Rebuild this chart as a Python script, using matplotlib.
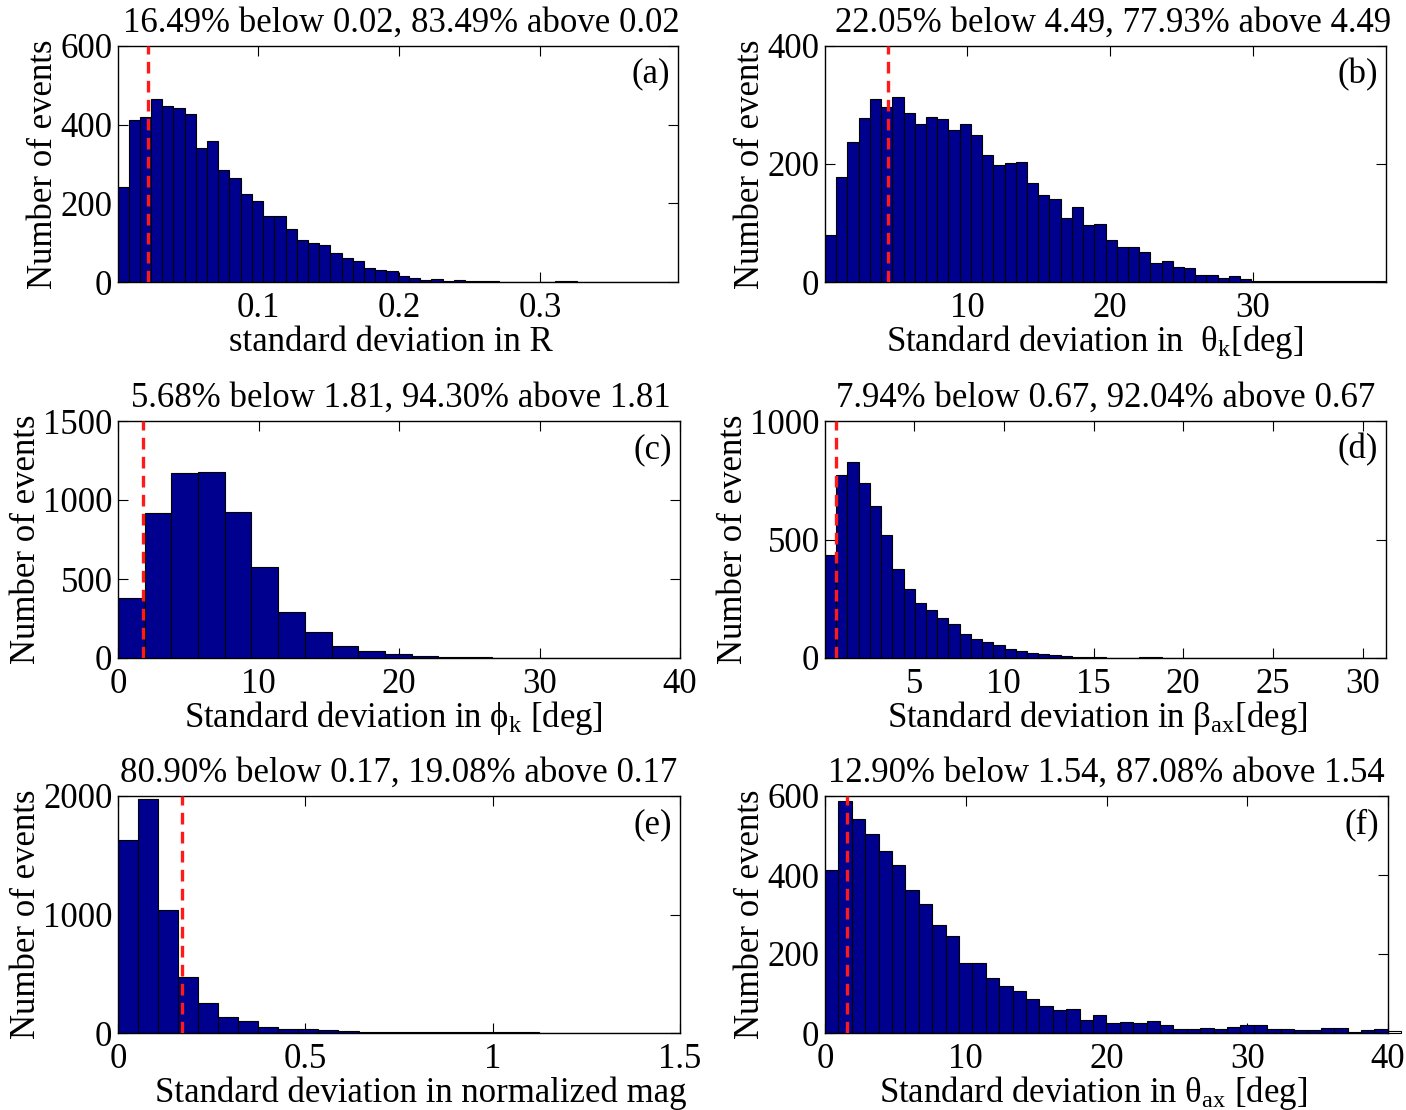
import numpy as np
import matplotlib
matplotlib.use("Agg")
import matplotlib.pyplot as plt

plt.rcParams['font.family'] = ['Liberation Serif', 'DejaVu Serif']
plt.rcParams['mathtext.fontset'] = 'custom'
plt.rcParams['mathtext.rm'] = 'Liberation Serif'
plt.rcParams['mathtext.it'] = 'Liberation Serif:italic'
plt.rcParams['font.size'] = 25

# ---------------- data ----------------
# (a) standard deviation in R
counts_a = [242, 412, 419, 464, 447, 443, 426, 341, 358, 286, 265, 224, 207, 167, 167,
            136, 106, 99, 93, 74, 61, 53, 36, 31, 29, 16, 10, 6, 8, 3, 4, 3, 2, 2, 1,
            1, 1, 0, 0, 2, 2, 0, 0, 0, 0, 0, 0, 0, 0, 0]
bins_a = [0.0, 0.00796]          # start, width
xlim_a = [0.0005, 0.398]
xticks_a = [0.1, 0.2, 0.3]
xticklabels_a = ['0.1', '0.2', '0.3']
yticks_a = [0, 200, 400, 600]
thr_a = 0.0215
title_a = '16.49% below 0.02, 83.49% above 0.02'

# (b) theta_k
counts_b = [80, 178, 237, 278, 310, 296, 313, 286, 268, 279, 276, 257, 268, 249, 215,
            198, 201, 203, 168, 148, 141, 109, 127, 96, 98, 71, 59, 60, 51, 32, 36, 26,
            23, 12, 12, 6, 10, 5, 1, 1, 2, 1, 2, 1, 1, 1, 1, 1, 1, 1]
bins_b = [0.07, 0.7846]
xlim_b = [0.07, 39.3]
xticks_b = [10, 20, 30]
xticklabels_b = ['10', '20', '30']
yticks_b = [0, 200, 400]
thr_b = 4.49
title_b = '22.05% below 4.49, 77.93% above 4.49'

# (c) phi_k
counts_c = [381, 916, 1170, 1176, 925, 573, 290, 162, 79, 47, 26, 15, 6, 4, 2, 1, 1, 0, 0, 0, 0]
bins_c = [0.0, 1.9]
xlim_c = [0, 40]
xticks_c = [0, 10, 20, 30, 40]
xticklabels_c = ['0', '10', '20', '30', '40']
yticks_c = [0, 500, 1000, 1500]
thr_c = 1.81
title_c = '5.68% below 1.81, 94.30% above 1.81'

# (d) beta_ax
counts_d = [433, 772, 825, 739, 641, 520, 375, 293, 234, 201, 170, 145, 100, 81, 67,
            53, 38, 31, 23, 16, 13, 9, 6, 3, 3, 1, 0, 1, 3, 3, 1, 0, 1, 1, 1, 2, 2, 1,
            1, 1, 0, 0, 0, 1, 0, 0, 0, 0, 0, 0]
bins_d = [0.03, 0.6254]
xlim_d = [0.03, 31.3]
xticks_d = [5, 10, 15, 20, 25, 30]
xticklabels_d = ['5', '10', '15', '20', '25', '30']
yticks_d = [0, 500, 1000]
thr_d = 0.67
title_d = '7.94% below 0.67, 92.04% above 0.67'

# (e) normalized mag
counts_e = [1631, 1974, 1034, 472, 253, 139, 99, 54, 31, 37, 23, 17, 11, 11, 9, 11, 6,
            9, 6, 9, 6, 3, 3, 3, 3, 3, 3, 3]
bins_e = [0.0, 0.0535]
xlim_e = [0, 1.5]
xticks_e = [0, 0.5, 1, 1.5]
xticklabels_e = ['0', '0.5', '1', '1.5']
yticks_e = [0, 1000, 2000]
thr_e = 0.17
title_e = '80.90% below 0.17, 19.08% above 0.17'

# (f) theta_ax
counts_f = [412, 587, 543, 504, 460, 425, 362, 326, 273, 245, 177, 177, 138, 120, 106,
            87, 68, 59, 62, 33, 46, 25, 28, 26, 30, 20, 10, 11, 13, 10, 16, 20, 20, 11,
            11, 8, 8, 13, 13, 3, 8, 11, 5]
bins_f = [0.0, 0.952]
xlim_f = [0, 40]
xticks_f = [0, 10, 20, 30, 40]
xticklabels_f = ['0', '10', '20', '30', '40']
yticks_f = [0, 200, 400, 600]
thr_f = 1.54
title_f = '12.90% below 1.54, 87.08% above 1.54'

xlabels = ['standard deviation in R',
           r'Standard deviation in  θ$_{\mathrm{k}}$[deg]',
           r'Standard deviation in ϕ$_{\mathrm{k}}$ [deg]',
           r'Standard deviation in β$_{\mathrm{ax}}$[deg]',
           'Standard deviation in normalized mag',
           r'Standard deviation in θ$_{\mathrm{ax}}$ [deg]']
letters = ['(a)', '(b)', '(c)', '(d)', '(e)', '(f)']

panels = [
    (counts_a, bins_a, xlim_a, xticks_a, xticklabels_a, yticks_a, thr_a, title_a),
    (counts_b, bins_b, xlim_b, xticks_b, xticklabels_b, yticks_b, thr_b, title_b),
    (counts_c, bins_c, xlim_c, xticks_c, xticklabels_c, yticks_c, thr_c, title_c),
    (counts_d, bins_d, xlim_d, xticks_d, xticklabels_d, yticks_d, thr_d, title_d),
    (counts_e, bins_e, xlim_e, xticks_e, xticklabels_e, yticks_e, thr_e, title_e),
    (counts_f, bins_f, xlim_f, xticks_f, xticklabels_f, yticks_f, thr_f, title_f),
]

# ---------------- layout ----------------
W, H = 1406, 1110
FS = 25
fig = plt.figure(figsize=(W / 100, H / 100), dpi=100)
boxes = [(118, 46, 678, 282), (825, 46, 1386, 282),
         (118, 421, 680, 658), (825, 421, 1386, 658),
         (118, 796, 680, 1033), (825, 796, 1388, 1033)]
xlabel_shift_px = [-7, -11, -6, -8, 22, -13]
title_shift_px = [3, 8, 2, 0, 0, 0]

for i, (box, p) in enumerate(zip(boxes, panels)):
    counts, bins, xlim, xt, xtl, yt, thr, title = p
    x0, y0, x1, y1 = box
    w_px, h_px = x1 - x0, y1 - y0
    ax = fig.add_axes([x0 / W, 1 - y1 / H, w_px / W, h_px / H])
    counts = np.array(counts, dtype=float)
    edges = bins[0] + bins[1] * np.arange(len(counts))
    bars = ax.bar(edges, counts, width=bins[1], align='edge',
                  color='#00008F', edgecolor='black', linewidth=0.8, zorder=2)
    if i == 5:
        # last bar runs past the axis edge (drawn unclipped, white fill)
        bars[-1].set_clip_on(False)
        bars[-1].set_facecolor('white')
    ax.axvline(thr, color='#FF1A1A', linestyle=(0, (3.5, 2.2)), linewidth=2.4, zorder=3)
    ax.set_xlim(xlim)
    ax.set_ylim(yt[0], yt[-1])
    ax.set_xticks(xt)
    ax.set_xticklabels(xtl)
    ax.set_yticks(yt)
    ax.tick_params(direction='in', length=7, width=0.8, top=True, right=True,
                   labelsize=FS)
    ax.tick_params(axis='x', pad=7)
    ax.tick_params(axis='y', pad=4)
    for s in ax.spines.values():
        s.set_linewidth(1.0)
    ax.text(0.5 + title_shift_px[i] / w_px, 1 + 6 / h_px, title, transform=ax.transAxes,
            ha='center', va='bottom', fontsize=FS)
    ax.set_xlabel(xlabels[i], fontsize=FS)
    ax.xaxis.set_label_coords(0.5 + xlabel_shift_px[i] / w_px, -69 / h_px,
                              transform=ax.transAxes)
    ax.xaxis.label.set_va('baseline')
    ax.set_ylabel('Number of events', fontsize=FS, labelpad=0)
    ax.text(0.985, 0.95, letters[i], transform=ax.transAxes, ha='right', va='top',
            fontsize=FS)

fig.savefig('out.png', dpi=100)
